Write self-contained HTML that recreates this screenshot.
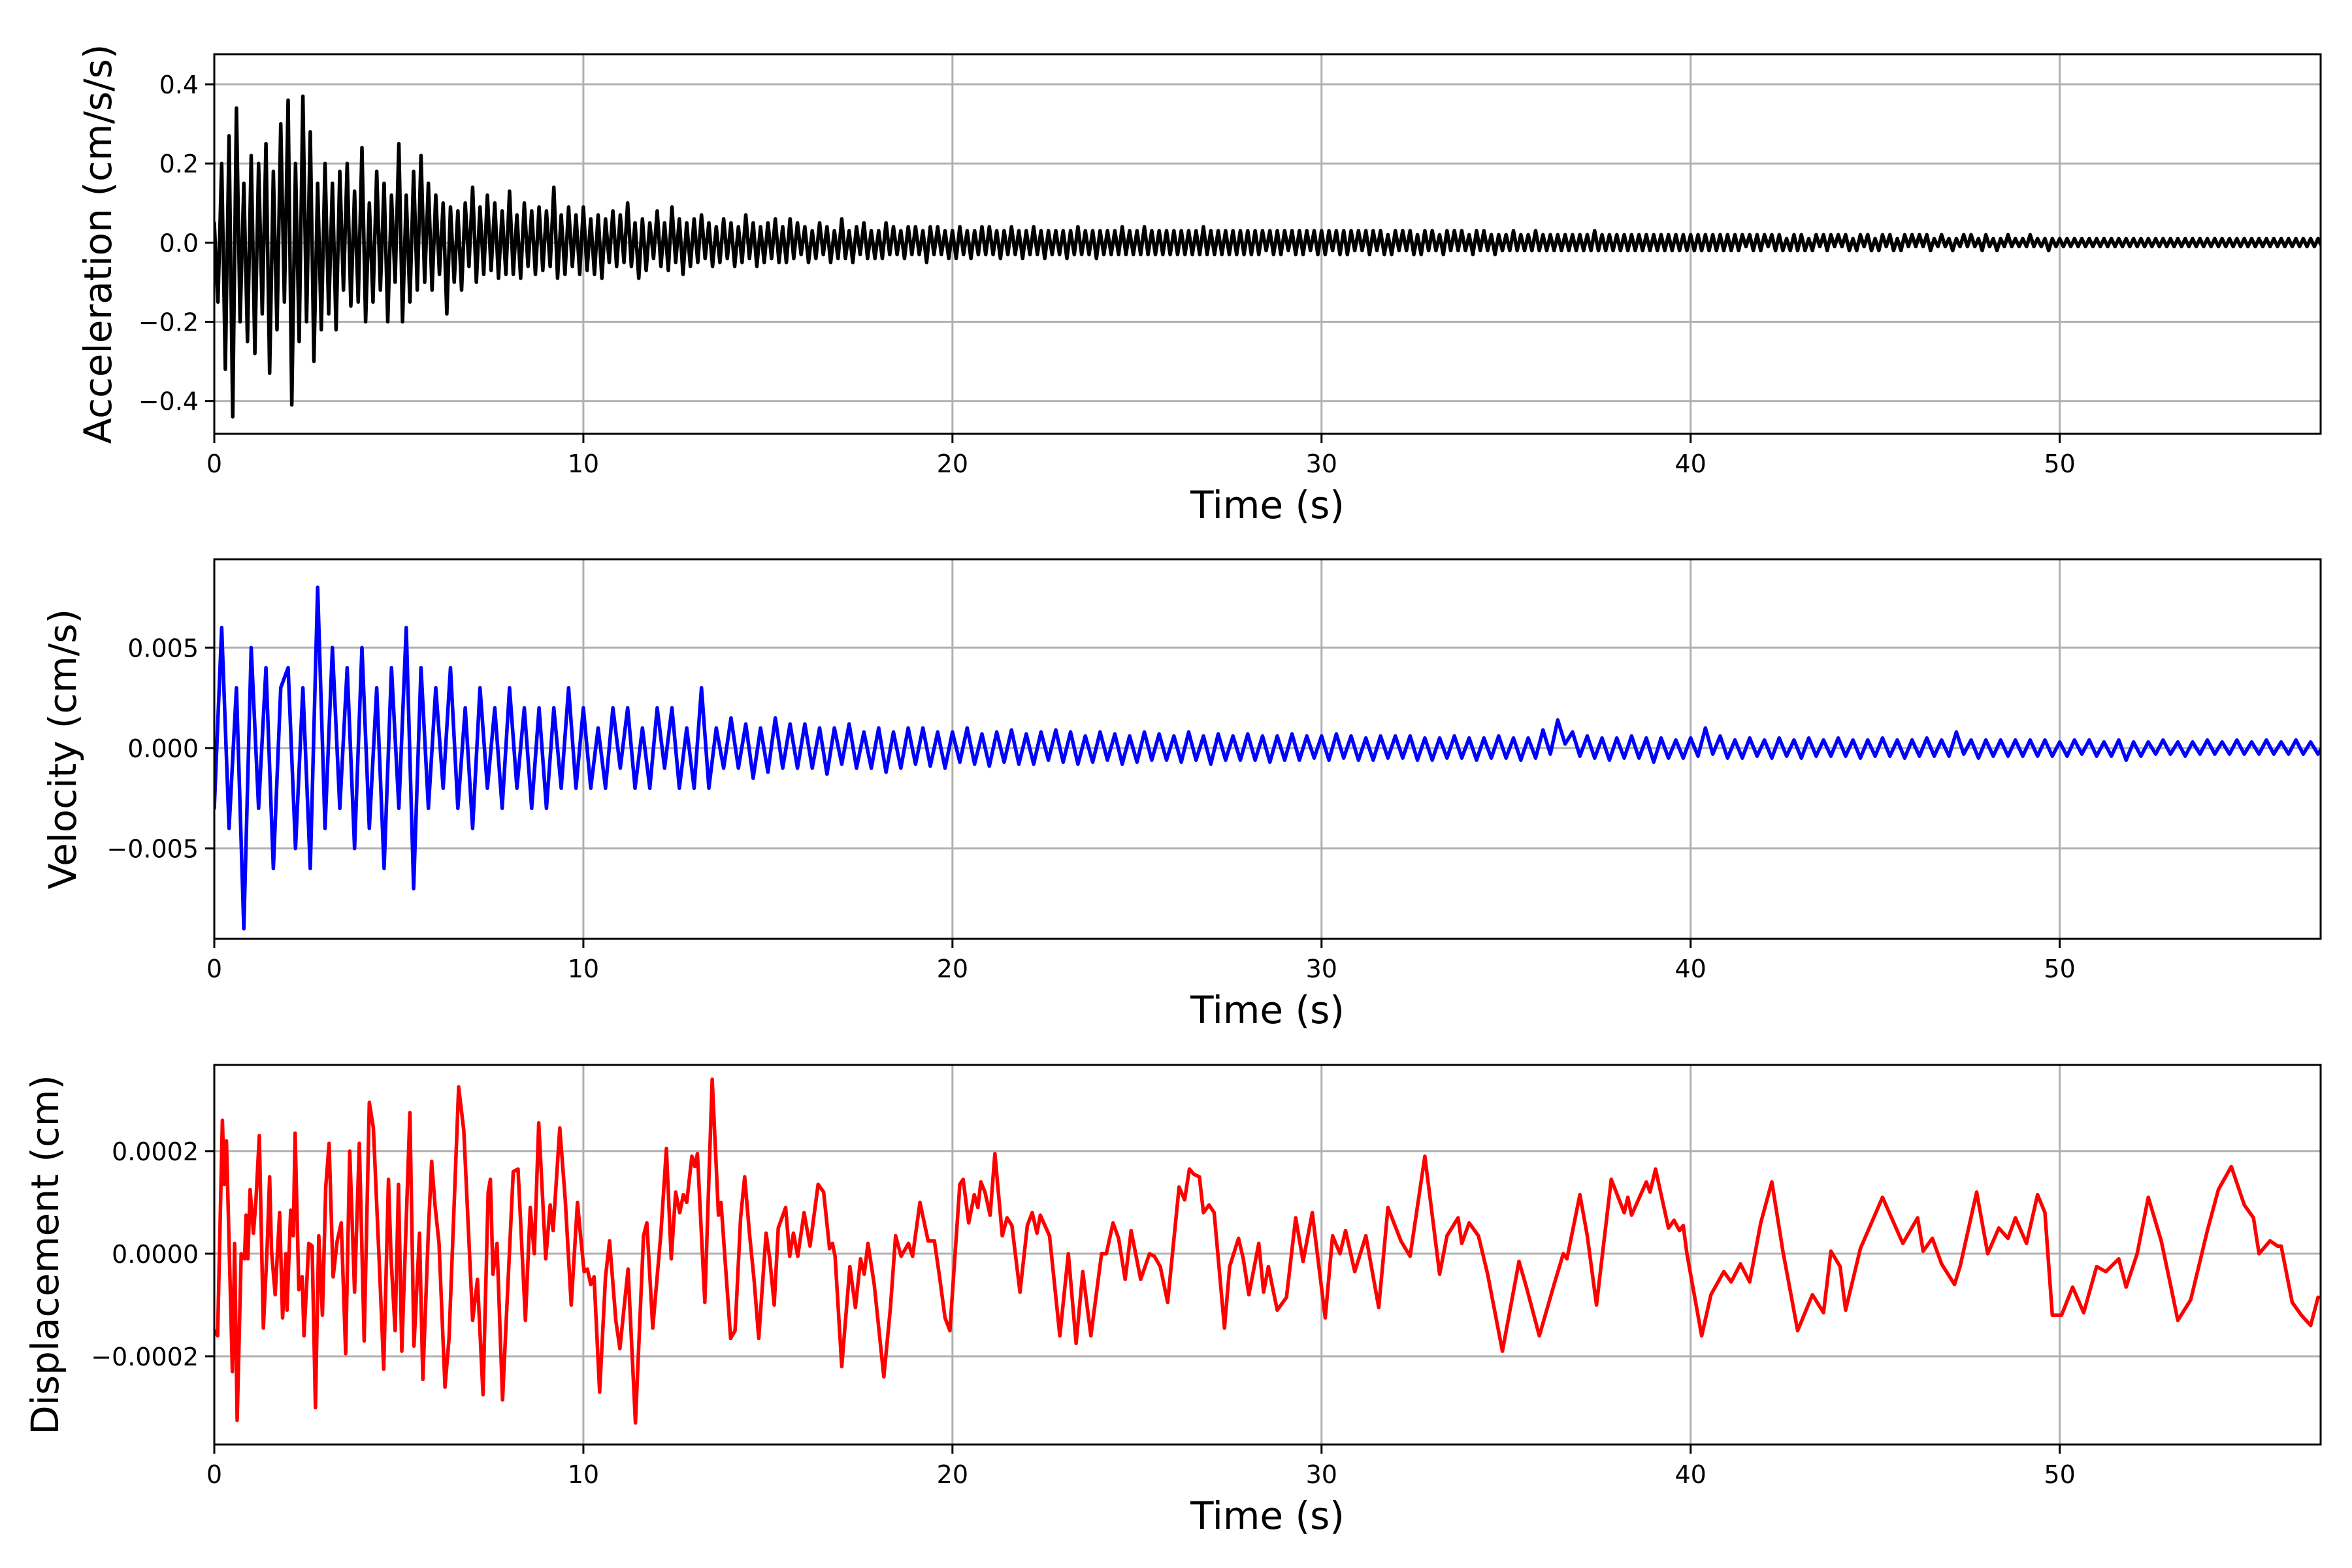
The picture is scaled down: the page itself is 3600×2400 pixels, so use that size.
<!DOCTYPE html>
<html>
<head>
<meta charset="utf-8">
<style>
html,body{margin:0;padding:0;background:#fff;}
svg{display:block;font-family:"DejaVu Sans","Liberation Sans",sans-serif;}
</style>
</head>
<body>
<svg id="fig" width="3600" height="2400" viewBox="0 0 3600 2400" xmlns="http://www.w3.org/2000/svg">
<rect width="3600" height="2400" fill="#fff"/>
</svg>
<script>
const xTicks = [0, 10, 20, 30, 40, 50];
const accTicks = [-0.4, -0.2, 0.0, 0.2, 0.4];
const accTickLabels = ["\u22120.4", "\u22120.2", "0.0", "0.2", "0.4"];
const velTicks = [-0.005, 0.0, 0.005];
const velTickLabels = ["\u22120.005", "0.000", "0.005"];
const dispTicks = [-0.0002, 0.0, 0.0002];
const dispTickLabels = ["\u22120.0002", "0.0000", "0.0002"];

const accStep = 0.1;
const accValues = [
5,-15,20,-32,27,-44,34,-20,15,-25,
22,-28,20,-18,25,-33,18,-22,30,-15,
36,-41,20,-25,37,-20,28,-30,15,-22,
20,-18,15,-22,18,-12,20,-16,13,-15,
24,-20,10,-15,18,-12,15,-20,12,-10,
25,-20,12,-15,18,-12,22,-10,15,-12,
12,-8,10,-18,9,-10,8,-12,10,-6,
14,-10,9,-8,12,-7,10,-9,8,-8,
13,-8,7,-9,10,-6,8,-8,9,-7,
8,-6,14,-9,7,-8,9,-6,7,-8,
9,-7,6,-8,7,-9,6,-5,8,-6,
7,-5,10,-6,5,-9,6,-7,5,-4,
8,-6,5,-7,9,-5,6,-8,5,-6,
6,-5,7,-4,5,-6,4,-5,6,-4,
5,-6,4,-5,7,-4,5,-6,4,-5,
5,-4,6,-5,4,-5,6,-4,5,-3,
4,-5,3,-4,5,-3,4,-5,3,-4,
6,-4,3,-5,4,-3,5,-4,3,-4,
3,-4,5,-3,4,-3,3,-4,4,-3,
4,-3,3,-5,4,-3,4,-3,3,-4,
3,-4,4,-3,3,-4,3,-3,4,-3,
4,-3,3,-4,3,-3,4,-3,3,-4,
3,-3,4,-3,3,-4,3,-3,3,-3,
3,-4,3,-3,4,-3,3,-3,3,-4,
3,-3,3,-3,3,-3,4,-3,3,-3,
3,-3,4,-3,3,-3,3,-3,3,-3,
3,-3,3,-3,3,-3,3,-3,4,-3,
3,-3,3,-3,3,-3,3,-3,3,-3,
3,-3,3,-3,3,-2,3,-3,3,-3,
3,-2,3,-3,3,-3,3,-2,3,-3,
3,-3,3,-2,3,-3,3,-3,3,-2,
3,-2,3,-3,3,-2,3,-3,2,-3,
3,-2,3,-2,3,-3,2,-3,3,-2,
3,-2,2,-3,3,-2,3,-2,3,-2,
2,-3,3,-2,3,-2,2,-3,2,-2,
2,-2,3,-2,2,-2,2,-2,3,-2,
2,-2,2,-2,2,-2,2,-2,2,-2,
2,-2,2,-2,3,-2,2,-2,2,-2,
2,-2,2,-2,2,-2,2,-2,2,-2,
2,-2,2,-2,2,-2,2,-2,2,-2,
2,-2,2,-2,2,-2,2,-2,2,-2,
2,-2,2,-2,2,-1,2,-2,2,-2,
2,-1,2,-2,2,-2,1,-2,2,-2,
2,-2,1,-2,2,-1,2,-2,2,-1,
2,-1,2,-2,1,-2,2,-1,2,-2,
1,-2,2,-1,2,-2,1,-2,2,-1,
2,-1,2,-1,2,-2,1,-1,2,-1,
1,-2,1,-1,2,-1,2,-1,1,-2,
2,-1,1,-2,1,-1,2,-1,1,-1,
1,-1,2,-1,1,-1,1,-2,1,-1,
1,-1,1,-1,1,-1,1,-1,1,-1,
1,-1,1,-1,1,-1,1,-1,1,-1,
1,-1,1,-1,1,-1,1,-1,1,-1,
1,-1,1,-1,1,-1,1,-1,1,-1,
1,-1,1,-1,1,-1,1,-1,1,-1,
1,-1,1,-1,1,-1,1,-1,1,-1,
1,-1,1,-1,1,-1,1,-1,1,-1,
1,-1
];

const velStep = 0.2;
const velValues = [
-3,6,-4,3,-9,5,-3,4,-6,3,
4,-5,3,-6,8,-4,5,-3,4,-5,
5,-4,3,-6,4,-3,6,-7,4,-3,
3,-2,4,-3,2,-4,3,-2,2,-3,
3,-2,2,-3,2,-3,2,-2,3,-2,
2,-2,1,-2,2,-1,2,-2,1,-2,
2,-1,2,-2,1,-2,3,-2,1,-1,
1.5,-1,1.2,-1.5,1,-1.2,1.5,-1,1.2,-1,
1.2,-1,1,-1.3,1,-0.8,1.2,-1,0.8,-1,
1,-1.2,0.8,-1,1,-0.8,1,-0.9,0.8,-1,
0.8,-0.7,1,-0.8,0.7,-0.9,0.8,-0.7,0.9,-0.8,
0.7,-0.8,0.8,-0.6,0.9,-0.7,0.8,-0.8,0.6,-0.7,
0.8,-0.6,0.7,-0.8,0.6,-0.7,0.8,-0.6,0.7,-0.6,
0.6,-0.7,0.8,-0.6,0.6,-0.8,0.7,-0.6,0.6,-0.6,
0.7,-0.6,0.6,-0.7,0.6,-0.6,0.7,-0.6,0.6,-0.5,
0.6,-0.6,0.7,-0.5,0.6,-0.6,0.5,-0.6,0.6,-0.5,
0.6,-0.5,0.6,-0.6,0.5,-0.6,0.5,-0.5,0.6,-0.5,
0.5,-0.6,0.5,-0.5,0.6,-0.5,0.5,-0.6,0.5,-0.5,
0.9,-0.3,1.4,0.2,0.8,-0.4,0.6,-0.5,0.5,-0.6,
0.5,-0.5,0.6,-0.5,0.5,-0.7,0.5,-0.5,0.4,-0.5,
0.5,-0.4,1.0,-0.3,0.6,-0.5,0.4,-0.5,0.5,-0.4,
0.4,-0.5,0.5,-0.4,0.4,-0.5,0.5,-0.4,0.4,-0.4,
0.5,-0.4,0.4,-0.5,0.4,-0.4,0.5,-0.4,0.4,-0.5,
0.4,-0.4,0.5,-0.4,0.4,-0.4,0.8,-0.3,0.4,-0.5,
0.4,-0.4,0.4,-0.4,0.4,-0.4,0.4,-0.4,0.4,-0.4,
0.3,-0.4,0.4,-0.3,0.4,-0.4,0.3,-0.4,0.4,-0.6,
0.3,-0.4,0.3,-0.3,0.4,-0.3,0.3,-0.4,0.3,-0.3,
0.4,-0.3,0.3,-0.3,0.4,-0.3,0.3,-0.3,0.4,-0.3,
0.3,-0.3,0.4,-0.3,0.3,-0.3,0.3,-0.3,0.3,-0.3
];

const dispTimes = [
0,0.09,0.22,0.27,0.33,0.49,0.55,0.62,0.73,0.82,0.86,0.91,0.97,1.06,1.13,1.22,1.33,1.43,1.50,1.55,
1.65,1.77,1.85,1.94,1.97,2.07,2.14,2.19,2.29,2.38,2.43,2.56,2.65,2.74,2.83,2.93,3.02,3.11,3.22,3.33,
3.44,3.56,3.67,3.80,3.93,4.06,4.20,4.31,4.48,4.59,4.72,4.79,4.90,4.99,5.08,5.30,5.41,5.56,5.65,5.80,
5.89,5.98,6.09,6.25,6.36,6.62,6.76,7.00,7.13,7.28,7.42,7.48,7.55,7.66,7.81,7.90,8.10,8.23,8.43,8.56,
8.67,8.79,8.98,9.10,9.18,9.36,9.51,9.67,9.84,9.93,10.02,10.11,10.20,10.29,10.44,10.60,10.71,10.88,10.99,11.21,
11.41,11.63,11.72,11.88,12.10,12.25,12.38,12.50,12.61,12.71,12.80,12.94,13.02,13.09,13.29,13.49,13.66,13.73,13.99,14.11,
14.26,14.37,14.50,14.63,14.75,14.95,15.05,15.17,15.28,15.48,15.59,15.69,15.81,15.98,16.14,16.36,16.51,16.67,16.75,16.82,
17.00,17.22,17.37,17.51,17.61,17.71,17.88,18.14,18.32,18.46,18.61,18.81,18.92,19.12,19.34,19.51,19.65,19.80,19.93,20.20,
20.29,20.44,20.59,20.69,20.77,20.88,21.02,21.15,21.35,21.48,21.61,21.83,22.03,22.16,22.29,22.38,22.63,22.91,23.14,23.35,
23.53,23.75,24.04,24.17,24.35,24.50,24.68,24.84,25.10,25.34,25.47,25.63,25.83,26.14,26.29,26.42,26.54,26.69,26.80,26.95,
27.09,27.37,27.51,27.75,27.88,28.03,28.30,28.43,28.56,28.7,28.8,29.05,29.3,29.5,29.75,30.1,30.3,30.5,30.65,30.9,
31.2,31.55,31.8,32.15,32.4,32.8,33.2,33.4,33.7,33.8,34.0,34.25,34.5,34.9,35.35,35.55,35.9,36.3,36.55,36.65,
37.0,37.2,37.45,37.85,38.2,38.3,38.4,38.8,38.9,39.05,39.4,39.55,39.7,39.8,39.9,40.3,40.55,40.9,41.1,41.35,
41.6,41.9,42.2,42.5,42.9,43.3,43.6,43.8,44.05,44.2,44.6,45.2,45.75,46.15,46.3,46.55,46.8,47.15,47.3,47.75,
48.05,48.35,48.6,48.8,49.1,49.4,49.6,49.8,50.05,50.35,50.65,51.0,51.25,51.6,51.8,52.1,52.4,52.75,53.0,53.2,
53.55,54.0,54.3,54.65,55.0,55.25,55.4,55.7,55.9,56.0,56.3,56.55,56.8,57.0
];
const dispValues = [
-1.5,-1.6,2.6,1.35,2.2,-2.3,0.2,-3.25,0,-0.1,0.75,-0.1,1.25,0.4,1.05,2.3,-1.45,0.1,1.5,0.05,
-0.8,0.8,-1.25,0,-1.1,0.85,0.35,2.35,-0.7,-0.45,-1.6,0.2,0.15,-3.0,0.35,-1.2,1.3,2.15,-0.45,0.25,
0.6,-1.95,2.0,-0.75,2.15,-1.7,2.95,2.45,-0.35,-2.25,1.45,-0.1,-1.5,1.35,-1.9,2.75,-1.8,0.4,-2.45,0.45,
1.8,0.95,0.2,-2.6,-1.65,3.25,2.4,-1.3,-0.5,-2.75,1.2,1.45,-0.4,0.2,-2.85,-1.45,1.6,1.65,-1.3,0.9,
0,2.55,-0.1,0.95,0.45,2.45,1.05,-1.0,1.0,0.3,-0.35,-0.3,-0.6,-0.45,-2.7,-0.45,0.25,-1.3,-1.85,-0.3,
-3.3,0.35,0.6,-1.45,0.4,2.05,-0.1,1.2,0.8,1.15,1.0,1.9,1.7,1.95,-0.95,3.4,0.75,1.0,-1.65,-1.5,
0.7,1.5,0.4,-0.55,-1.65,0.4,-0.1,-1.0,0.5,0.9,-0.05,0.4,-0.05,0.8,0.15,1.35,1.2,0.1,0.2,-0.05,
-2.2,-0.25,-1.05,-0.1,-0.4,0.2,-0.6,-2.4,-1.05,0.35,-0.05,0.2,-0.05,1.0,0.25,0.25,-0.45,-1.25,-1.5,1.35,
1.45,0.6,1.15,0.9,1.4,1.2,0.75,1.95,0.35,0.7,0.55,-0.75,0.55,0.8,0.4,0.75,0.35,-1.6,0,-1.75,
-0.35,-1.6,0,0,0.6,0.3,-0.5,0.45,-0.5,0,-0.05,-0.25,-0.95,1.3,1.05,1.65,1.55,1.5,0.8,0.95,
0.8,-1.45,-0.25,0.3,-0.1,-0.8,0.2,-0.75,-0.25,-0.75,-1.1,-0.85,0.7,-0.15,0.8,-1.25,0.35,0,0.45,-0.35,
0.35,-1.05,0.9,0.25,-0.05,1.9,-0.4,0.35,0.7,0.2,0.6,0.35,-0.4,-1.9,-0.15,-0.65,-1.6,-0.6,0,-0.1,
1.15,0.35,-1.0,1.45,0.8,1.1,0.75,1.4,1.2,1.65,0.5,0.65,0.45,0.55,0,-1.6,-0.8,-0.35,-0.55,-0.2,
-0.55,0.6,1.4,0.05,-1.5,-0.8,-1.15,0.05,-0.25,-1.1,0.1,1.1,0.2,0.7,0.05,0.3,-0.2,-0.6,-0.25,1.2,
0,0.5,0.3,0.7,0.2,1.15,0.8,-1.2,-1.2,-0.65,-1.15,-0.25,-0.35,-0.1,-0.65,0,1.1,0.25,-0.6,-1.3,
-0.9,0.45,1.25,1.7,0.95,0.7,0,0.25,0.15,0.15,-0.95,-1.2,-1.4,-0.85
];

const SVGNS = "http://www.w3.org/2000/svg";
const svg = document.getElementById("fig");
const X0 = 328, X1 = 3552, XMAX = 57.07;
const panels = [
  {name:"acceleration", top:83, bottom:664, ymin:-0.483, ymax:0.476, ticks:accTicks, labels:accTickLabels,
   ylabel:"Acceleration (cm/s/s)", ylabelX:150, color:"#000000"},
  {name:"velocity", top:856, bottom:1437, ymin:-0.0095, ymax:0.0094, ticks:velTicks, labels:velTickLabels,
   ylabel:"Velocity (cm/s)", ylabelX:96, color:"#0000ff"},
  {name:"displacement", top:1630, bottom:2211, ymin:-0.000372, ymax:0.000368, ticks:dispTicks, labels:dispTickLabels,
   ylabel:"Displacement (cm)", ylabelX:69, color:"#ff0000"}
];
function xs(t){ return X0 + (t/XMAX)*(X1-X0); }
function mk(tag, attrs, parent){
  const e = document.createElementNS(SVGNS, tag);
  for (const k in attrs) e.setAttribute(k, attrs[k]);
  (parent||svg).appendChild(e);
  return e;
}
function seriesPoints(p){
  const ys = v => p.bottom - (v - p.ymin)/(p.ymax - p.ymin)*(p.bottom - p.top);
  const pts = [];
  if (p.name === "acceleration") {
    accValues.forEach((v,i)=>pts.push(xs(i*accStep).toFixed(1)+","+ys(v/100).toFixed(1)));
  } else if (p.name === "velocity") {
    velValues.forEach((v,i)=>pts.push(xs(i*velStep).toFixed(1)+","+ys(v/1000).toFixed(1)));
  } else {
    dispValues.forEach((v,i)=>pts.push(xs(dispTimes[i]).toFixed(1)+","+ys(v*1e-4).toFixed(1)));
  }
  return pts.join(" ");
}

panels.forEach((p, idx) => {
  const g = mk("g", {});
  
  
  const ys = v => p.bottom - (v - p.ymin)/(p.ymax - p.ymin)*(p.bottom - p.top);

  const cp = mk("clipPath", {id:"clip"+idx}, g);
  mk("rect", {x:X0, y:p.top, width:X1-X0, height:p.bottom-p.top}, cp);

  xTicks.forEach(t => {
    const l = mk("line", {x1:xs(t), x2:xs(t), y1:p.top, y2:p.bottom, stroke:"#b0b0b0", "stroke-width":3}, g);
    
    
  });
  p.ticks.forEach(v => {
    const l = mk("line", {x1:X0, x2:X1, y1:ys(v), y2:ys(v), stroke:"#b0b0b0", "stroke-width":3}, g);
    
    
  });

  const line = mk("polyline", {points:seriesPoints(p), fill:"none", stroke:p.color, "stroke-width":5.5,
    "stroke-linejoin":"round", "stroke-linecap":"round", "clip-path":"url(#clip"+idx+")"}, g);
  
  

  const fr = mk("rect", {x:X0, y:p.top, width:X1-X0, height:p.bottom-p.top, fill:"none", stroke:"#000", "stroke-width":3}, g);
  
  

  xTicks.forEach(t => {
    mk("line", {x1:xs(t), x2:xs(t), y1:p.bottom, y2:p.bottom+14, stroke:"#000", "stroke-width":3}, g);
    const tx = mk("text", {x:xs(t), y:p.bottom+59, "font-size":38, "text-anchor":"middle", fill:"#000"}, g);
    tx.textContent = String(t);
    
    
  });
  p.ticks.forEach((v,i) => {
    mk("line", {x1:X0-14, x2:X0, y1:ys(v), y2:ys(v), stroke:"#000", "stroke-width":3}, g);
    const tx = mk("text", {x:X0-24, y:ys(v)+14, "font-size":38, "text-anchor":"end", fill:"#000"}, g);
    tx.textContent = p.labels[i];
    
    
  });

  const xl = mk("text", {x:(X0+X1)/2, y:p.bottom+129, "font-size":58, "text-anchor":"middle", fill:"#000"}, g);
  xl.textContent = "Time (s)";
  
  

  const cy = (p.top+p.bottom)/2;
  const yl = mk("text", {x:p.ylabelX, y:cy, "font-size":58, "text-anchor":"middle", "dominant-baseline":"central",
    transform:"rotate(-90 "+p.ylabelX+" "+cy+")", fill:"#000"}, g);
  yl.textContent = p.ylabel;
  
  
});
</script>
</body>
</html>
